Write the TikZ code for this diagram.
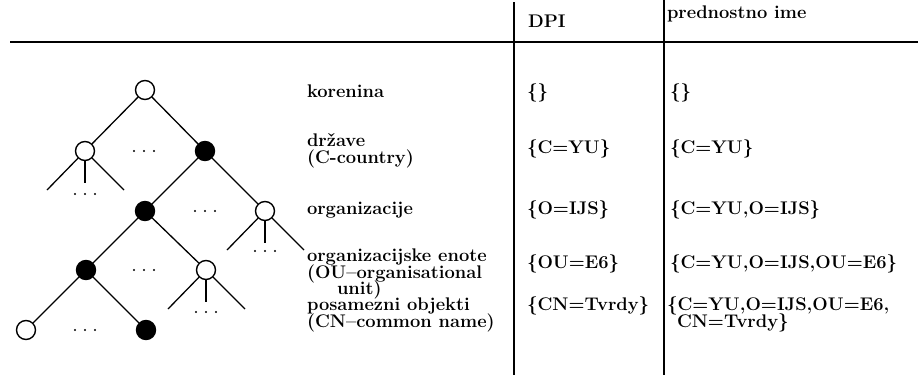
\documentclass[tikz,border=0pt]{standalone}
\begin{document}
\begin{tikzpicture}[x=1pt,y=-1pt,
  lbl/.style={anchor=base west, inner sep=0pt, outer sep=0pt,
    font=\fontsize{18.3}{17}\selectfont\bfseries},
  vtx/.style={circle, draw, line width=1.4pt, minimum size=19pt, inner sep=0pt},
  hollownode/.style={vtx, fill=white},
  fullnode/.style={vtx, fill=black},
  branch/.style={line width=1.3pt},
  tabrule/.style={line width=1.4pt},
  gapdots/.pic={\foreach \dx in {-10,0,10} \fill (\dx,0) circle (1.1);}
]
\useasboundingbox (0,0) rectangle (921,375);

% table rules
\draw[tabrule] (10,42) -- (918,42);
\draw[tabrule] (514,2) -- (514,375);
\draw[tabrule] (664,0) -- (664,375);

% header
\node[lbl] (dpi) at (528,27) {DPI};
\node[lbl] (pref) at (667,18) {prednostno ime};

% rows
\node[lbl] (l1) at (307,97) {korenina};
\node[lbl] (d1) at (527,97) {\{\}};
\node[lbl] (p1) at (670,97) {\{\}};

\node[lbl] (l2a) at (307,146) {države};
\node[lbl] (l2b) at (307,163) {(C-country)};
\node[lbl] (d2) at (527,153) {\{C=YU\}};
\node[lbl] (p2) at (670,153) {\{C=YU\}};

\node[lbl] (l3) at (307,214) {organizacije};
\node[lbl] (d3) at (527,214) {\{O=IJS\}};
\node[lbl] (p3) at (670,214) {\{C=YU,O=IJS\}};

\node[lbl] (l4a) at (307,261) {organizacijske enote};
\node[lbl] (l4b) at (307,278) {(OU–organisational};
\node[lbl] (l4c) at (337,294) {unit)};
\node[lbl] (d4) at (527,268) {\{OU=E6\}};
\node[lbl] (p4) at (670,268) {\{C=YU,O=IJS,OU=E6\}};

\node[lbl] (l5a) at (307,310) {posamezni objekti};
\node[lbl] (l5b) at (307,327) {(CN–common name)};
\node[lbl] (d5) at (527,310) {\{CN=Tvrdy\}};
\node[lbl] (p5a) at (667,310) {\{C=YU,O=IJS,OU=E6,};
\node[lbl] (p5b) at (677,327) {CN=Tvrdy\}};

% tree vertices
\node[hollownode] (r0) at (145,90) {};
\node[hollownode] (a1) at (85,151) {};
\node[fullnode]   (b1) at (205,151) {};
\node[fullnode]   (b2) at (145,211) {};
\node[hollownode] (c2) at (265,211) {};
\node[fullnode]   (b3) at (86,270) {};
\node[hollownode] (c3) at (206,270) {};
\node[hollownode] (d4n) at (26,330) {};
\node[fullnode]   (b4) at (146,330) {};

% tree edges
\draw[branch] (r0) -- (a1);
\draw[branch] (r0) -- (b1);
\draw[branch] (b1) -- (b2);
\draw[branch] (b1) -- (c2);
\draw[branch] (b2) -- (b3);
\draw[branch] (b2) -- (c3);
\draw[branch] (b3) -- (d4n);
\draw[branch] (b3) -- (b4);

% open subtrees below hollow vertices
\coordinate (a1l) at (47,190);
\coordinate (a1m) at (85,183);
\coordinate (a1r) at (124,190);
\draw[branch] (a1) -- (a1l);
\draw[branch] (a1) -- (a1m);
\draw[branch] (a1) -- (a1r);

\coordinate (c2l) at (227,250);
\coordinate (c2m) at (265,243);
\coordinate (c2r) at (304,250);
\draw[branch] (c2) -- (c2l);
\draw[branch] (c2) -- (c2m);
\draw[branch] (c2) -- (c2r);

\coordinate (c3l) at (168,309);
\coordinate (c3m) at (206,302);
\coordinate (c3r) at (245,309);
\draw[branch] (c3) -- (c3l);
\draw[branch] (c3) -- (c3m);
\draw[branch] (c3) -- (c3r);

% elision dots
\pic at (85,194) {gapdots};
\pic at (265,251) {gapdots};
\pic at (206,312) {gapdots};
\pic at (144,151) {gapdots};
\pic at (205,211) {gapdots};
\pic at (144,270) {gapdots};
\pic at (85,330) {gapdots};
\end{tikzpicture}
\end{document}
